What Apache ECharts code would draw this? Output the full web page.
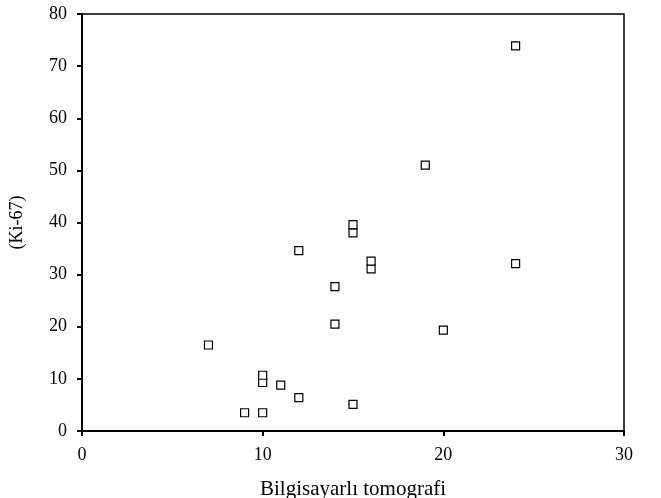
<!DOCTYPE html>
<html>
<head>
<meta charset="utf-8">
<script src="https://cdn.jsdelivr.net/npm/echarts@6/dist/echarts.min.js"></script>
<style>html,body{margin:0;padding:0;background:#fff}#c{width:661px;height:498px}</style>
</head>
<body>
<div id="c"></div>
<script>
const xValues = [7, 9, 10, 10, 10, 11, 12, 12, 14, 14, 15, 15, 15, 16, 16, 19, 20, 24, 24];
const yValues = [16.5, 3.5, 3.5, 9.3, 10.7, 8.8, 6.4, 34.6, 27.7, 20.5, 5.1, 38.0, 39.6, 31.1, 32.6, 51.0, 19.35, 32.1, 73.9];
const xTitle = 'Bilgisayarlı tomografi';
const yTitle = '(Ki-67)';

const font = 'Liberation Serif';
const chart = echarts.init(document.getElementById('c'));
chart.setOption({
  animation: false,
  backgroundColor: '#fff',
  grid: { left: 82, right: 37, top: 14, bottom: 67, containLabel: false, outerBoundsMode: 'none', show: true, borderColor: '#000', borderWidth: 1.5, backgroundColor: 'transparent' },
  xAxis: {
    type: 'value', min: 0, max: 30, interval: 10,
    name: xTitle, nameLocation: 'middle', nameGap: 48,
    nameTextStyle: { fontFamily: font, fontSize: 21, color: '#000' },
    axisLine: { show: true, lineStyle: { color: '#000', width: 2 } },
    axisTick: { show: true, inside: false, length: 5, lineStyle: { color: '#000', width: 2 } },
    axisLabel: { fontFamily: font, fontSize: 18, color: '#000', margin: 15 },
    splitLine: { show: false }
  },
  yAxis: {
    type: 'value', min: 0, max: 80, interval: 10,
    name: yTitle, nameLocation: 'middle', nameGap: 56, nameRotate: 90,
    nameTextStyle: { fontFamily: font, fontSize: 18, color: '#000' },
    axisLine: { show: true, lineStyle: { color: '#000', width: 2 } },
    axisTick: { show: true, inside: false, length: 5, lineStyle: { color: '#000', width: 2 } },
    axisLabel: { fontFamily: font, fontSize: 18, color: '#000', margin: 15 },
    splitLine: { show: false }
  },
  series: [{
    type: 'scatter',
    data: xValues.map((x, i) => [x, yValues[i]]),
    symbol: 'rect',
    symbolSize: 8,
    itemStyle: { color: '#fff', borderColor: '#000', borderWidth: 1.2, opacity: 1 }
  }]
});
</script>
</body>
</html>
